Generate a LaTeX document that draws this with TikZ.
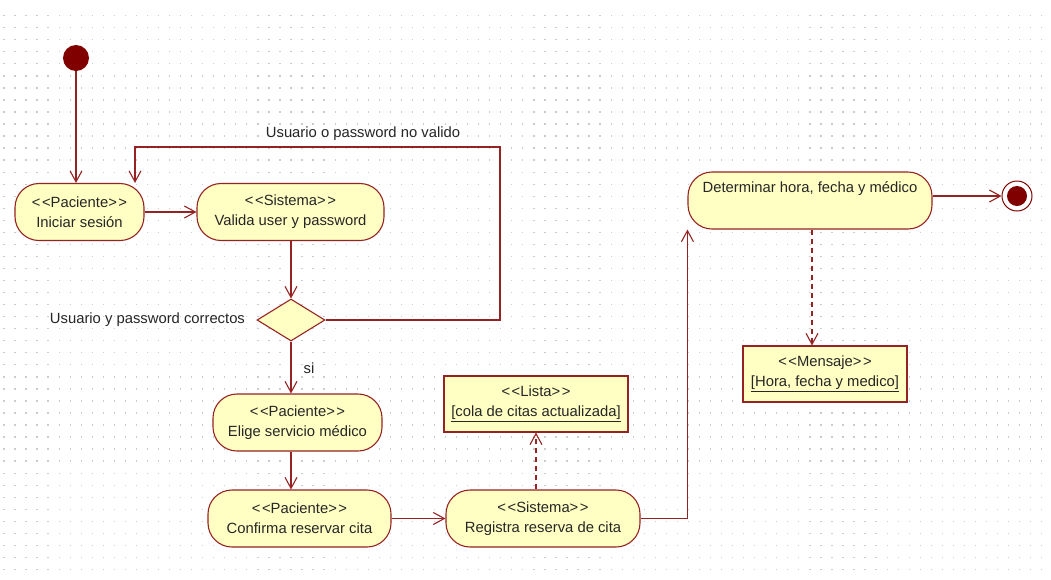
\documentclass[tikz,border=0pt]{standalone}
\usepackage{fontspec}
\setmainfont{Liberation Sans}
\usepackage{xcolor}
\usetikzlibrary{arrows.meta, positioning, shapes.geometric, calc}
\definecolor{umlline}{RGB}{150,35,35}
\definecolor{umlfill}{RGB}{255,255,196}
\definecolor{umldot}{RGB}{128,0,0}
\newcommand{\stereo}[1]{<\kern1.5pt<#1>\kern1.5pt>}

\begin{document}
\begin{tikzpicture}[x=1pt, y=-1pt,
  activity/.style={rectangle, rounded corners=24pt, draw=umlline, fill=umlfill, line width=1.1pt,
    minimum height=57pt, inner sep=0pt, align=center, font=\fontsize{14.8}{20}\selectfont, text=black!85},
  objbox/.style={rectangle, draw=umlline, fill=umlfill, line width=1.1pt,
    minimum height=56pt, inner sep=0pt, align=center, font=\fontsize{14.8}{20}\selectfont, text=black!85},
  decision/.style={diamond, draw=umlline, fill=umlfill, line width=1.1pt,
    minimum width=68pt, minimum height=42pt, inner sep=0pt},
  startdot/.style={circle, fill=umldot, minimum size=26pt, inner sep=0pt},
  enddot/.style={circle, draw=umldot, fill=white, line width=1pt, minimum size=30pt, inner sep=0pt},
  flow/.style={umlline, line width=1.1pt, -{Straight Barb[length=11pt,width=12pt]}},
  dep/.style={flow, dash pattern=on 5pt off 4pt},
  guard/.style={font=\fontsize{14.8}{20}\selectfont, text=black!85}
]
  \useasboundingbox[fill=white] (0,0) rectangle (1051,579);
  \foreach \i in {0,...,94}
    \foreach \j in {0,...,46}
      \fill[gray!40] ({3.3+11.04*\i},{15+12.04*\j}) rectangle ++(1.3,1.3);

  \node[startdot] (start) at (76,58) {};
  \node[activity, minimum width=129pt] (iniciar) at (79.5,212) {\stereo{Paciente}\\Iniciar sesión};
  \node[activity, minimum width=187pt] (valida) at (290.5,212) {\stereo{Sistema}\\Valida user y password};
  \node[decision] (check) at (291,320) {};
  \node[activity, minimum width=169pt] (elige) at (297.5,422.5) {\stereo{Paciente}\\Elige servicio médico};
  \node[activity, minimum width=183pt] (confirma) at (299.5,518.5) {\stereo{Paciente}\\Confirma reservar cita};
  \node[activity, minimum width=194pt] (registra) at (543,518.5) {\stereo{Sistema}\\Registra reserva de cita};
  \node[objbox, minimum width=184pt] (lista) at (536,404) {\stereo{Lista}\\\underline{[cola de citas actualizada]}};
  \node[activity, minimum width=244pt] (determinar) at (810,200.5) {Determinar hora, fecha y médico\\\strut};
  \node[objbox, minimum width=164pt] (mensaje) at (825,374) {\stereo{Mensaje}\\\underline{[Hora, fecha y medico]}};
  \node[enddot] (end) at (1017,196) {};
  \fill[umldot] (end.center) circle (10);

  \node[guard] (noValido) at (363,134) {Usuario o password no valido};
  \node[guard, left=8pt of check] (correctos) {Usuario y password correctos};
  \node[guard] (si) at (309,368) {si};
  \coordinate (back) at (500,147);

  \draw[flow] (start) -- (start |- iniciar.north);
  \draw[flow] (iniciar.east) -- (valida.west);
  \draw[flow] (check.north |- valida.south) -- (check.north);
  \draw[flow] (check.east) -| (back) -| ([xshift=55.5pt]iniciar.north);
  \draw[flow] (check.south) -- (check.south |- elige.north);
  \draw[flow] (check.south |- elige.south) -- (check.south |- confirma.north);
  \draw[flow] (confirma.east) -- (registra.west);
  \draw[dep] (lista.south |- registra.north) -- (lista.south);
  \draw[flow] (registra.east) -| (determinar.south west);
  \draw[flow] (determinar.east |- end) -- (end.west);
  \draw[dep] ([xshift=2pt]determinar.south) -- ([xshift=2pt]determinar.south |- mensaje.north);
\end{tikzpicture}
\end{document}
